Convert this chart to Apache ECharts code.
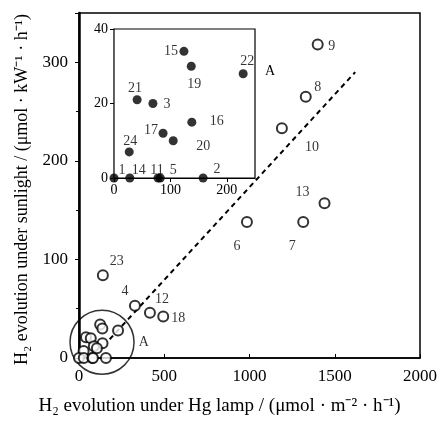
<!DOCTYPE html>
<html>
<head>
    <meta charset="UTF-8">
    <title>H2 evolution: sunlight vs Hg lamp</title>
    <script src="https://cdn.jsdelivr.net/npm/echarts/dist/echarts.min.js"></script>
    <style>
        html, body { margin: 0; padding: 0; background: #fff; }
    </style>
</head>
<body>
    <div id="main" style="width: 447px; height: 421px;"></div>
    <script type="text/javascript">
        // open circles in the big plot (labelled)
        const mainNames = ['9', '8', '10', '13', '6', '7', '23', '4', '12', '18'];
        const mainX = [1400, 1330, 1190, 1440, 985, 1315, 140, 328, 416, 494];
        const mainY = [318, 265, 233, 157, 138, 138, 84, 53, 46, 42];

        // region A, shown magnified in the inset
        const insetNames = ['15', '19', '22', '21', '3', '16', '17', '20', '24', '1', '14', '11', '5', '2'];
        const insetX = [124, 137, 229, 41, 69, 138, 87, 105, 27, 0, 28, 78, 82, 158];
        const insetY = [34, 30, 28, 21, 20, 15, 12, 10, 7, 0, 0, 0, 0, 0];

        // dashed trend line end points
        const trendX = [180, 1620];
        const trendY = [19, 290];

        // circle marking region A
        const regionA = [135, 16];

        // label offsets (px) so the numbers sit where the figure puts them
        const mainOffsets = {
            '9': [14, 2], '8': [12, -9], '10': [30, 19], '13': [-22, -11], '6': [-10, 24],
            '7': [-11, 24], '23': [14, -14], '4': [-10, -14], '12': [12, -13], '18': [15, 2]
        };
        const insetOffsets = {
            '15': [-13, 0], '19': [3, 18], '22': [4, -12], '21': [-2, -11], '3': [14, 1],
            '16': [25, -1], '17': [-12, -3], '20': [30, 6], '24': [1, -11], '1': [8, -8],
            '14': [9, -8], '11': [-1, -8], '5': [13, -8], '2': [14, -9]
        };

        const serif = "'Liberation Serif', 'Times New Roman', serif";
        const chart = echarts.init(document.getElementById('main'));

        const mainData = mainNames.map((n, i) => ({
            value: [mainX[i], mainY[i]],
            name: n,
            label: { show: true, formatter: n, offset: mainOffsets[n], position: 'inside' }
        }));
        const insetData = insetNames.map((n, i) => ({
            value: [insetX[i], insetY[i]],
            name: n,
            label: { show: true, formatter: n, offset: insetOffsets[n], position: 'inside' }
        }));

        const plain = v => String(v);

        const option = {
            animation: false,
            backgroundColor: '#fff',
            textStyle: { fontFamily: serif, color: '#000' },
            grid: [
                {
                    left: 79, top: 13, right: 27, bottom: 62,
                    show: true, borderColor: '#000', borderWidth: 1.5
                },
                {
                    left: 114, top: 29, width: 141, height: 149,
                    show: true, borderColor: '#000', borderWidth: 1.2, backgroundColor: '#fff', z: 5
                }
            ],
            xAxis: [
                {
                    gridIndex: 0, type: 'value', min: 0, max: 2000, interval: 500,
                    name: 'H\u2082 evolution under Hg lamp / (\u03bcmol \u00b7 m\u207b\u00b2 \u00b7 h\u207b\u00b9)',
                    nameLocation: 'middle', nameGap: 39,
                    nameTextStyle: { fontSize: 19, fontFamily: serif, color: '#000', padding: [0, 60, 0, 0] },
                    axisLine: { lineStyle: { color: '#000', width: 1.5 } },
                    axisTick: { inside: true, length: 4, lineStyle: { color: '#000' } },
                    axisLabel: { fontSize: 17, color: '#000', fontFamily: serif, margin: 10, formatter: plain },
                    splitLine: { show: false }
                },
                {
                    gridIndex: 1, type: 'value', min: 0, max: 250, interval: 100,
                    axisLine: { lineStyle: { color: '#000', width: 1.2 } },
                    axisTick: { length: 4, lineStyle: { color: '#000' } },
                    axisLabel: { fontSize: 14, color: '#000', fontFamily: serif, margin: 5, showMaxLabel: false },
                    splitLine: { show: false }
                }
            ],
            yAxis: [
                {
                    gridIndex: 0, type: 'value', min: 0, max: 350, interval: 100,
                    name: 'H\u2082 evolution under sunlight / (\u03bcmol \u00b7 kW\u207b\u00b9 \u00b7 h\u207b\u00b9)',
                    nameLocation: 'middle', nameGap: 47,
                    nameTextStyle: { fontSize: 18, fontFamily: serif, color: '#000', padding: [0, 8, 0, 0] },
                    axisLine: { lineStyle: { color: '#000', width: 2.5 } },
                    axisTick: { length: 4, lineStyle: { color: '#000' } },
                    minorTick: { show: true, splitNumber: 2, length: 3, lineStyle: { color: '#000' } },
                    axisLabel: { fontSize: 17, color: '#000', fontFamily: serif, margin: 11, showMaxLabel: false },
                    splitLine: { show: false }
                },
                {
                    gridIndex: 1, type: 'value', min: 0, max: 40, interval: 20,
                    axisLine: { lineStyle: { color: '#000', width: 1.2 } },
                    axisTick: { length: 4, lineStyle: { color: '#000' } },
                    axisLabel: { fontSize: 14, color: '#000', fontFamily: serif, margin: 6 },
                    splitLine: { show: false }
                }
            ],
            series: [
                {
                    // dashed trend line
                    type: 'line', xAxisIndex: 0, yAxisIndex: 0,
                    data: trendX.map((x, i) => [x, trendY[i]]),
                    symbol: 'none',
                    lineStyle: { color: '#000', width: 2, type: [5, 4] },
                    z: 1
                },
                {
                    // circle around region A
                    type: 'scatter', xAxisIndex: 0, yAxisIndex: 0,
                    data: [regionA],
                    symbol: 'circle', symbolSize: 64,
                    itemStyle: { color: 'rgba(0,0,0,0)', borderColor: '#000', borderWidth: 1.5 },
                    label: { show: true, formatter: 'A', position: 'right', distance: 4, fontSize: 14, color: '#000', fontFamily: serif },
                    clip: false, z: 2
                },
                {
                    type: 'scatter', xAxisIndex: 0, yAxisIndex: 0,
                    data: mainData,
                    symbol: 'emptyCircle', symbolSize: 10,
                    itemStyle: { color: '#000', borderColor: '#000', borderWidth: 2.2 },
                    label: { fontSize: 14, color: '#000', fontFamily: serif },
                    z: 3
                },
                {
                    // region A points at full scale
                    type: 'scatter', xAxisIndex: 0, yAxisIndex: 0,
                    data: insetX.map((x, i) => [x, insetY[i]]),
                    symbol: 'emptyCircle', symbolSize: 10,
                    itemStyle: { color: '#000', borderColor: '#000', borderWidth: 2 },
                    clip: false, z: 3
                },
                {
                    type: 'scatter', xAxisIndex: 1, yAxisIndex: 1,
                    data: insetData,
                    symbol: 'circle', symbolSize: 9,
                    itemStyle: { color: '#000' },
                    label: { fontSize: 14, color: '#000', fontFamily: serif },
                    clip: false, z: 6
                }
            ],
            graphic: [
                { type: 'text', left: 265, top: 64, style: { text: 'A', fontSize: 14, fontFamily: serif, fill: '#000' } }
            ]
        };

        chart.setOption(option);
    </script>
</body>
</html>
